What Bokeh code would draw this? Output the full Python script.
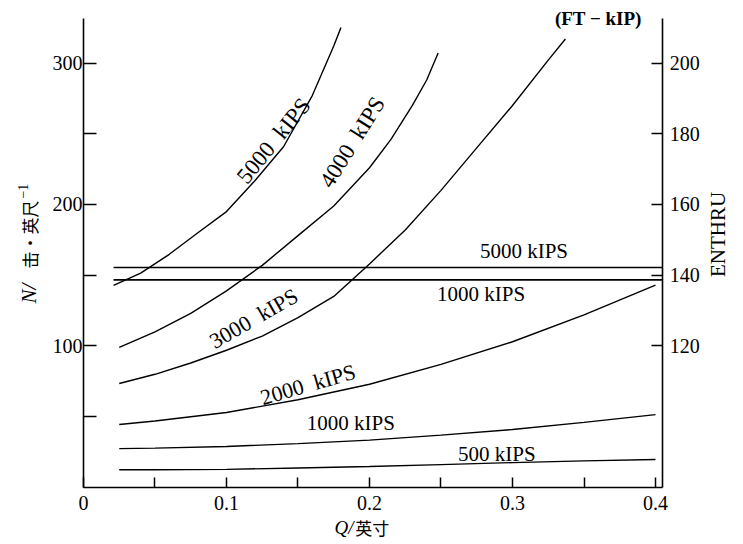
import math
from bokeh.plotting import figure
from bokeh.models import Range1d, LinearAxis, FixedTicker, Label
from bokeh.embed import file_html
from bokeh.resources import INLINE

# ---- data ----
q_low = [0.025, 0.05, 0.1, 0.15, 0.2, 0.25, 0.3, 0.35, 0.4]
n_500 = [12.5, 12.5, 12.8, 13.8, 14.8, 16.2, 17.6, 18.8, 19.8]
n_1000 = [27.5, 27.8, 29.0, 31.0, 33.5, 37.0, 41.0, 46.0, 51.5]
n_2000 = [44.5, 47.0, 53.0, 62.0, 73.0, 87.0, 103.0, 122.0, 143.0]

q_3000 = [0.025, 0.05, 0.075, 0.1, 0.125, 0.15, 0.175, 0.2, 0.225, 0.25, 0.275, 0.3, 0.325, 0.337]
n_3000 = [73.5, 80, 88, 97, 107, 120, 135, 158, 182, 210, 240, 270, 302, 317]

q_4000 = [0.025, 0.05, 0.075, 0.1, 0.125, 0.15, 0.175, 0.2, 0.215, 0.23, 0.24, 0.248]
n_4000 = [99, 110, 123, 139, 157, 178, 199, 226, 246, 270, 288, 307]

q_5000 = [0.021, 0.04, 0.06, 0.08, 0.1, 0.12, 0.14, 0.16, 0.175, 0.18]
n_5000 = [142.8, 151.5, 164.8, 180, 195, 217, 241, 277, 312, 325]

q_enthru = [0.021, 0.405]
enthru_5000 = [142.2, 142.2]
enthru_1000 = [138.7, 138.7]

x_ticks = [0, 0.1, 0.2, 0.3, 0.4]
x_minor = [0.05, 0.15, 0.25, 0.35]
x_tick_labels = ["0", "0.1", "0.2", "0.3", "0.4"]
y_ticks = [100, 200, 300]
y_minor = [50, 150, 250]
r_ticks = [120, 140, 160, 180, 200]

# curve labels: text, x, y (left scale), angle (deg), font size
lab_text = ["5000\u00a0 kIPS", "4000\u00a0 kIPS", "3000\u00a0 kIPS", "2000\u00a0 kIPS",
            "1000 kIPS", "500 kIPS", "5000 kIPS", "1000 kIPS"]
lab_x = [0.133, 0.188, 0.119, 0.157, 0.187, 0.289, 0.308, 0.278]
lab_y = [245, 244, 119.5, 72.8, 45.5, 23.7, 167, 136.7]
lab_ang = [51, 58, 30, 16, 0, 0, 0, 0]
lab_size = [23, 23, 22, 22, 21, 21, 21, 21]

SERIF = "Liberation Serif"
CJK = "Noto Sans CJK SC"

# axis extents (data) and the visible window around them
X_END = 0.405
Y_AXIS_TOP = 331.5
X_LO, X_HI = -0.05804, 0.45944
Y_LO, Y_HI = -38.87, 344.17
to_enthru = lambda n: 80 + 0.4 * n

p = figure(width=740, height=542, x_range=Range1d(X_LO, X_HI), y_range=Range1d(Y_LO, Y_HI),
           output_backend="svg", toolbar_location=None,
           x_axis_location=None, y_axis_location=None,
           min_border_left=0, min_border_right=0, min_border_top=0, min_border_bottom=0)
p.extra_y_ranges = {"enthru": Range1d(to_enthru(Y_LO), to_enthru(Y_HI))}
p.grid.visible = False
p.outline_line_color = None
p.background_fill_color = "white"
p.border_fill_color = "white"

for qs, ns in [(q_low, n_500), (q_low, n_1000), (q_low, n_2000),
               (q_3000, n_3000), (q_4000, n_4000), (q_5000, n_5000)]:
    p.line(qs, ns, line_color="black", line_width=1.4)
for es in [enthru_5000, enthru_1000]:
    p.line(q_enthru, es, line_color="black", line_width=1.6, y_range_name="enthru")

xa = LinearAxis(fixed_location=0, bounds=(0, X_END),
                ticker=FixedTicker(ticks=x_ticks, minor_ticks=x_minor))
xa.major_label_overrides = {t: s for t, s in zip(x_ticks, x_tick_labels)}
ya = LinearAxis(fixed_location=0, bounds=(0, Y_AXIS_TOP),
                ticker=FixedTicker(ticks=y_ticks, minor_ticks=y_minor))
ra = LinearAxis(y_range_name="enthru", fixed_location=X_END,
                bounds=(80, to_enthru(Y_AXIS_TOP)),
                ticker=FixedTicker(ticks=r_ticks, minor_ticks=[]))
p.add_layout(xa, "below")
p.add_layout(ya, "left")
p.add_layout(ra, "right")

for ax, tin, stand in [(xa, 10, 9), (ya, 13, 1), (ra, 11, 7)]:
    ax.axis_line_color = "black"
    ax.axis_line_width = 1.6
    ax.major_tick_in = tin
    ax.major_tick_out = 0
    ax.minor_tick_in = tin
    ax.minor_tick_out = 0
    ax.major_tick_line_width = 1.5
    ax.minor_tick_line_width = 1.5
    ax.major_tick_line_color = "black"
    ax.minor_tick_line_color = "black"
    ax.major_label_standoff = stand
    ax.major_label_text_font = SERIF
    ax.major_label_text_font_size = "20px"
    ax.major_label_text_color = "black"

def label(x, y, text, font=SERIF, size=20, style="normal", angle=0.0,
          align="center", baseline="middle", y_range_name="default"):
    p.add_layout(Label(x=x, y=y, text=text, angle=angle, text_align=align,
                       text_baseline=baseline, text_font=font, text_font_size=f"{size}px",
                       text_font_style=style, text_color="black", y_range_name=y_range_name))

# curve labels
for t, x, y, a, s in zip(lab_text, lab_x, lab_y, lab_ang, lab_size):
    label(x, y, t, size=s, angle=math.radians(a))

# top unit label
label(0.360, 331.4, "(FT \u2212 kIP)", size=19, style="bold")

# left axis title: N/ 击·英尺^-1 (reads bottom to top)
label(-0.0378, 130.0, "N/", size=21, style="italic", angle=math.pi / 2, align="left")
label(-0.0378, 154.8, "击·英尺", font=CJK, size=17, angle=math.pi / 2, align="left")
label(-0.0420, 204.2, "\u22121", size=14, angle=math.pi / 2, align="left")

# right axis title
label(0.4434, 178.8, "ENTHRU", size=21, angle=math.pi / 2)

# bottom axis title: Q/ 英寸
label(0.1755, -28.5, "Q/", size=19, style="italic", align="left")
label(0.1900, -28.5, "英寸", font=CJK, size=17, align="left")

open("out.html", "w").write(file_html(p, INLINE))
